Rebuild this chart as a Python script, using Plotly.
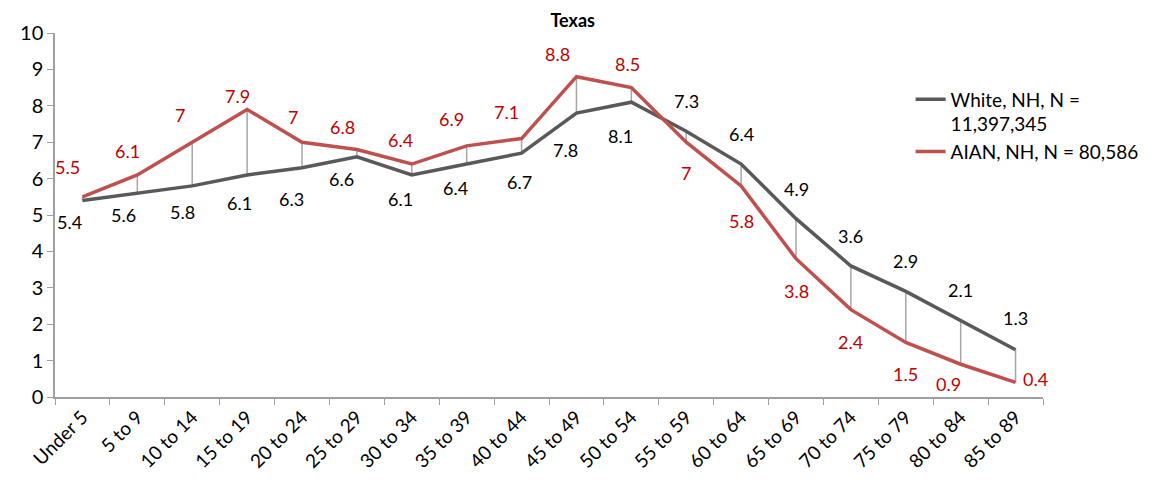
import plotly.graph_objects as go

# Age groups and percentages (Texas)
AGE_GROUPS = ["Under 5", "5 to 9", "10 to 14", "15 to 19", "20 to 24", "25 to 29",
              "30 to 34", "35 to 39", "40 to 44", "45 to 49", "50 to 54", "55 to 59",
              "60 to 64", "65 to 69", "70 to 74", "75 to 79", "80 to 84", "85 to 89"]
WHITE = [5.4, 5.6, 5.8, 6.1, 6.3, 6.6, 6.1, 6.4, 6.7, 7.8, 8.1, 7.3, 6.4, 4.9, 3.6, 2.9, 2.1, 1.3]
AIAN = [5.5, 6.1, 7, 7.9, 7, 6.8, 6.4, 6.9, 7.1, 8.8, 8.5, 7, 5.8, 3.8, 2.4, 1.5, 0.9, 0.4]
WHITE_NAME = "White, NH, N =<br>11,397,345"
AIAN_NAME = "AIAN, NH, N = 80,586"

# label offsets in px (dx right, dy down) — hand placed like the Excel original
WHITE_OFF = [(-13, 22), (-14, 22), (-10, 26), (-8, 28), (-11, 31), (-15, 22), (-11, 24),
             (-11, 24), (-2, 29), (-11, 37), (-11, 34), (0, -30), (0, -30), (0, -30),
             (0, -30), (0, -30), (0, -31), (0, -32)]
AIAN_OFF = [(-15, -30), (-10, -24), (-12, -27), (-10, -13), (-9, -25), (-14, -22), (-11, -24),
            (-15, -27), (-15, -27), (-19, -23), (-4, -24), (0, 31), (0, 35), (0, 32),
            (0, 32), (0, 32), (-12, 20), (20, -3)]

FONT = "Lato, 'Open Sans', sans-serif"
GREY_LINE = "#595959"
RED_LINE = "#C0504D"
RED_TEXT = "#C00000"
AXIS = "#A0A0A0"

fig = go.Figure()

# high-low (drop) lines between the two series
dx, dy = [], []
for cat, w, a in zip(AGE_GROUPS, WHITE, AIAN):
    dx += [cat, cat, None]
    dy += [w, a, None]
fig.add_trace(go.Scatter(x=dx, y=dy, mode="lines", showlegend=False,
                         line=dict(color="#A6A6A6", width=1.5), hoverinfo="skip"))

fig.add_trace(go.Scatter(x=AGE_GROUPS, y=WHITE, name=WHITE_NAME, mode="lines",
                         line=dict(color=GREY_LINE, width=3.5)))
fig.add_trace(go.Scatter(x=AGE_GROUPS, y=AIAN, name=AIAN_NAME, mode="lines",
                         line=dict(color=RED_LINE, width=3.5)))

for cat, v, (ox, oy) in zip(AGE_GROUPS, WHITE, WHITE_OFF):
    fig.add_annotation(x=cat, y=v, text=f"{v:g}", showarrow=False, xshift=ox, yshift=-oy,
                       font=dict(color="black", size=18, family=FONT))
for cat, v, (ox, oy) in zip(AGE_GROUPS, AIAN, AIAN_OFF):
    fig.add_annotation(x=cat, y=v, text=f"{v:g}", showarrow=False, xshift=ox, yshift=-oy,
                       font=dict(color=RED_TEXT, size=18, family=FONT))

# page body has an 8px margin, so the figure is sized/offset to land like the original
fig.update_layout(
    width=1157, height=479,
    paper_bgcolor="white", plot_bgcolor="white",
    font=dict(family=FONT, size=18, color="black"),
    margin=dict(l=47, r=122, t=17, b=90),
    title=dict(text="<b>Texas</b>", x=0.524, xref="paper", xanchor="center",
               y=0.974, yref="container", yanchor="middle", font=dict(size=18)),
    legend=dict(x=0.866, y=0.87, xanchor="left", yanchor="top", valign="top",
                bgcolor="rgba(0,0,0,0)", font=dict(size=19), tracegroupgap=0),
    xaxis=dict(type="category", range=[-0.5, 17.5], showgrid=False, zeroline=False,
               showline=True, linecolor=AXIS, linewidth=1.5,
               ticks="outside", tickson="boundaries", ticklen=6, tickcolor=AXIS,
               tickangle=-45, tickfont=dict(size=19)),
    yaxis=dict(range=[0, 10], dtick=1, showgrid=False, zeroline=False,
               showline=True, linecolor=AXIS, linewidth=1.5,
               ticks="outside", ticklen=6, tickcolor=AXIS, tickfont=dict(size=20)),
    showlegend=True,
)

fig.write_html("out.html")
